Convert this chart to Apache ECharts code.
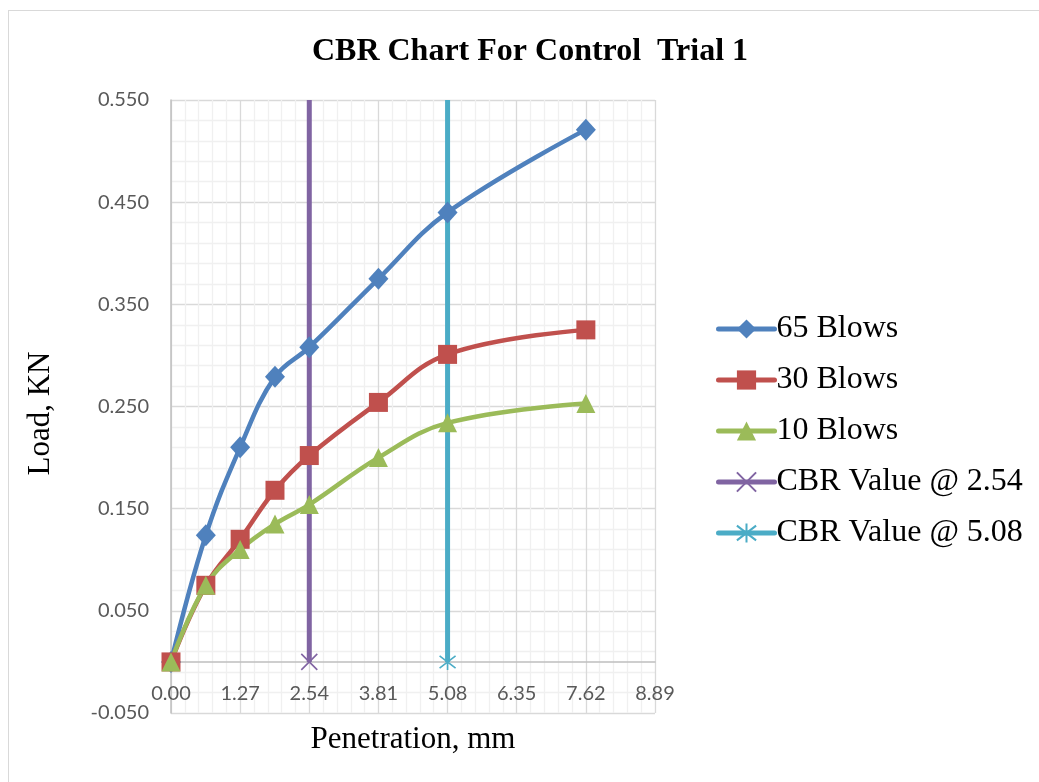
<!DOCTYPE html>
<html>
<head>
<meta charset="utf-8">
<title>CBR Chart For Control Trial 1</title>
<script src="https://cdn.jsdelivr.net/npm/echarts@6/dist/echarts.min.js"></script>
<style>
  html, body { margin: 0; padding: 0; background: #ffffff; }
  #frame { position: absolute; left: 8px; top: 10px; width: 1100px; height: 900px; border: 1.5px solid #d9d9d9; box-sizing: border-box; }
  #chart { position: absolute; left: 0; top: 0; width: 1039px; height: 782px; }
</style>
</head>
<body>
<div id="frame"></div>
<div id="chart"></div>
<script>
// Penetration readings (mm)
const penetration = [0, 0.64, 1.27, 1.91, 2.54, 3.81, 5.08, 7.62];
// Load (kN) for each compaction effort
const load65 = [0, 0.124, 0.210, 0.279, 0.308, 0.375, 0.440, 0.521];
const load30 = [0, 0.075, 0.120, 0.168, 0.202, 0.254, 0.301, 0.325];
const load10 = [0, 0.075, 0.110, 0.135, 0.154, 0.200, 0.234, 0.253];
// Reference penetrations for the CBR value
const cbrAt254 = [2.54, 2.54];
const cbrAt508 = [5.08, 5.08];
const cbrLoad = [0, 0.55];

const seriesNames = ['65 Blows', '30 Blows', '10 Blows', 'CBR Value @ 2.54', 'CBR Value @ 5.08'];
const colors = ['#4f81bd', '#c0504d', '#9bbb59', '#8064a2', '#4bacc6'];

const pair = (xs, ys) => xs.map((x, i) => [x, ys[i]]);
// vertical marker lines: symbol only at the bottom point
const vline = (xs) => xs.map((x, i) => i === 0 ? { value: [x, cbrLoad[i]] } : { value: [x, cbrLoad[i]], symbol: 'none' });

const serif = '"Liberation Serif", "Times New Roman", serif';
const sans = 'Lato, "Open Sans", sans-serif';

function curve(name, data, color, symbol, size) {
  return {
    name, type: 'line', data, smooth: 0.4,
    symbol, symbolSize: size,
    lineStyle: { color, width: 4.5 },
    itemStyle: { color },
    z: 3
  };
}
function marker(name, data, color, path) {
  return {
    name, type: 'line', data,
    symbol: path, symbolSize: 16,
    lineStyle: { color, width: 5 },
    itemStyle: { color: 'rgba(0,0,0,0)', borderColor: color, borderWidth: 1.6 },
    z: 2
  };
}

const chart = echarts.init(document.getElementById('chart'), null, { renderer: 'canvas' });
chart.setOption({
  animation: false,
  backgroundColor: 'transparent',
  title: {
    text: 'CBR Chart For Control  Trial 1',
    left: 525, top: 31, textAlign: 'center',
    textStyle: { fontFamily: serif, fontWeight: 'bold', fontSize: 32, color: '#000' }
  },
  legend: {
    orient: 'vertical', left: 711, top: 308,
    itemWidth: 56, itemHeight: 24, itemGap: 19,
    data: seriesNames,
    lineStyle: { width: 5, cap: 'round' },
    textStyle: { fontFamily: serif, fontSize: 32, lineHeight: 30, color: '#000', padding: [0, 0, 0, -3] }
  },
  grid: { left: 171, right: 384, top: 100, bottom: 69, outerBoundsMode: 'none', containLabel: false },
  xAxis: {
    type: 'value', min: 0, max: 8.89, interval: 1.27,
    name: 'Penetration, mm', nameLocation: 'middle', nameGap: 11, nameMoveOverlap: false,
    nameTextStyle: { fontFamily: serif, fontSize: 31, color: '#000' },
    axisLine: { onZero: true, lineStyle: { color: '#bfbfbf', width: 1.5 } },
    axisTick: { show: false },
    // labels sit between the zero line and the bottom edge of the plot
    axisLabel: { margin: -29, fontFamily: sans, fontSize: 20, color: '#595959', formatter: v => v.toFixed(2) },
    splitLine: { show: true, lineStyle: { color: '#d9d9d9', width: 1.3 } },
    minorTick: { show: false, splitNumber: 5 },
    minorSplitLine: { show: true, lineStyle: { color: '#f0f0f0', width: 1.3 } }
  },
  yAxis: {
    type: 'value', min: -0.05, max: 0.55, interval: 0.1,
    name: 'Load, KN', nameLocation: 'middle', nameGap: 115, nameRotate: 90,
    nameTextStyle: { fontFamily: serif, fontSize: 31, color: '#000', padding: [0, 14, 0, 0] },
    axisLine: { show: true, onZero: false, lineStyle: { color: '#bfbfbf', width: 1.5 } },
    axisTick: { show: false },
    axisLabel: { margin: 22, fontFamily: sans, fontSize: 20, color: '#595959', formatter: v => v.toFixed(3) },
    splitLine: { show: true, lineStyle: { color: '#d9d9d9', width: 1.3 } },
    minorTick: { show: false, splitNumber: 5 },
    minorSplitLine: { show: true, lineStyle: { color: '#f0f0f0', width: 1.3 } }
  },
  series: [
    curve(seriesNames[0], pair(penetration, load65), colors[0], 'diamond', [20, 22]),
    curve(seriesNames[1], pair(penetration, load30), colors[1], 'rect', 19),
    curve(seriesNames[2], pair(penetration, load10), colors[2], 'triangle', 19),
    marker(seriesNames[3], vline(cbrAt254), colors[3], 'path://M0,0L10,10M10,0L0,10'),
    marker(seriesNames[4], vline(cbrAt508), colors[4], 'path://M0,0L10,10M10,0L0,10M5,-1.5L5,11.5')
  ]
});
</script>
</body>
</html>
